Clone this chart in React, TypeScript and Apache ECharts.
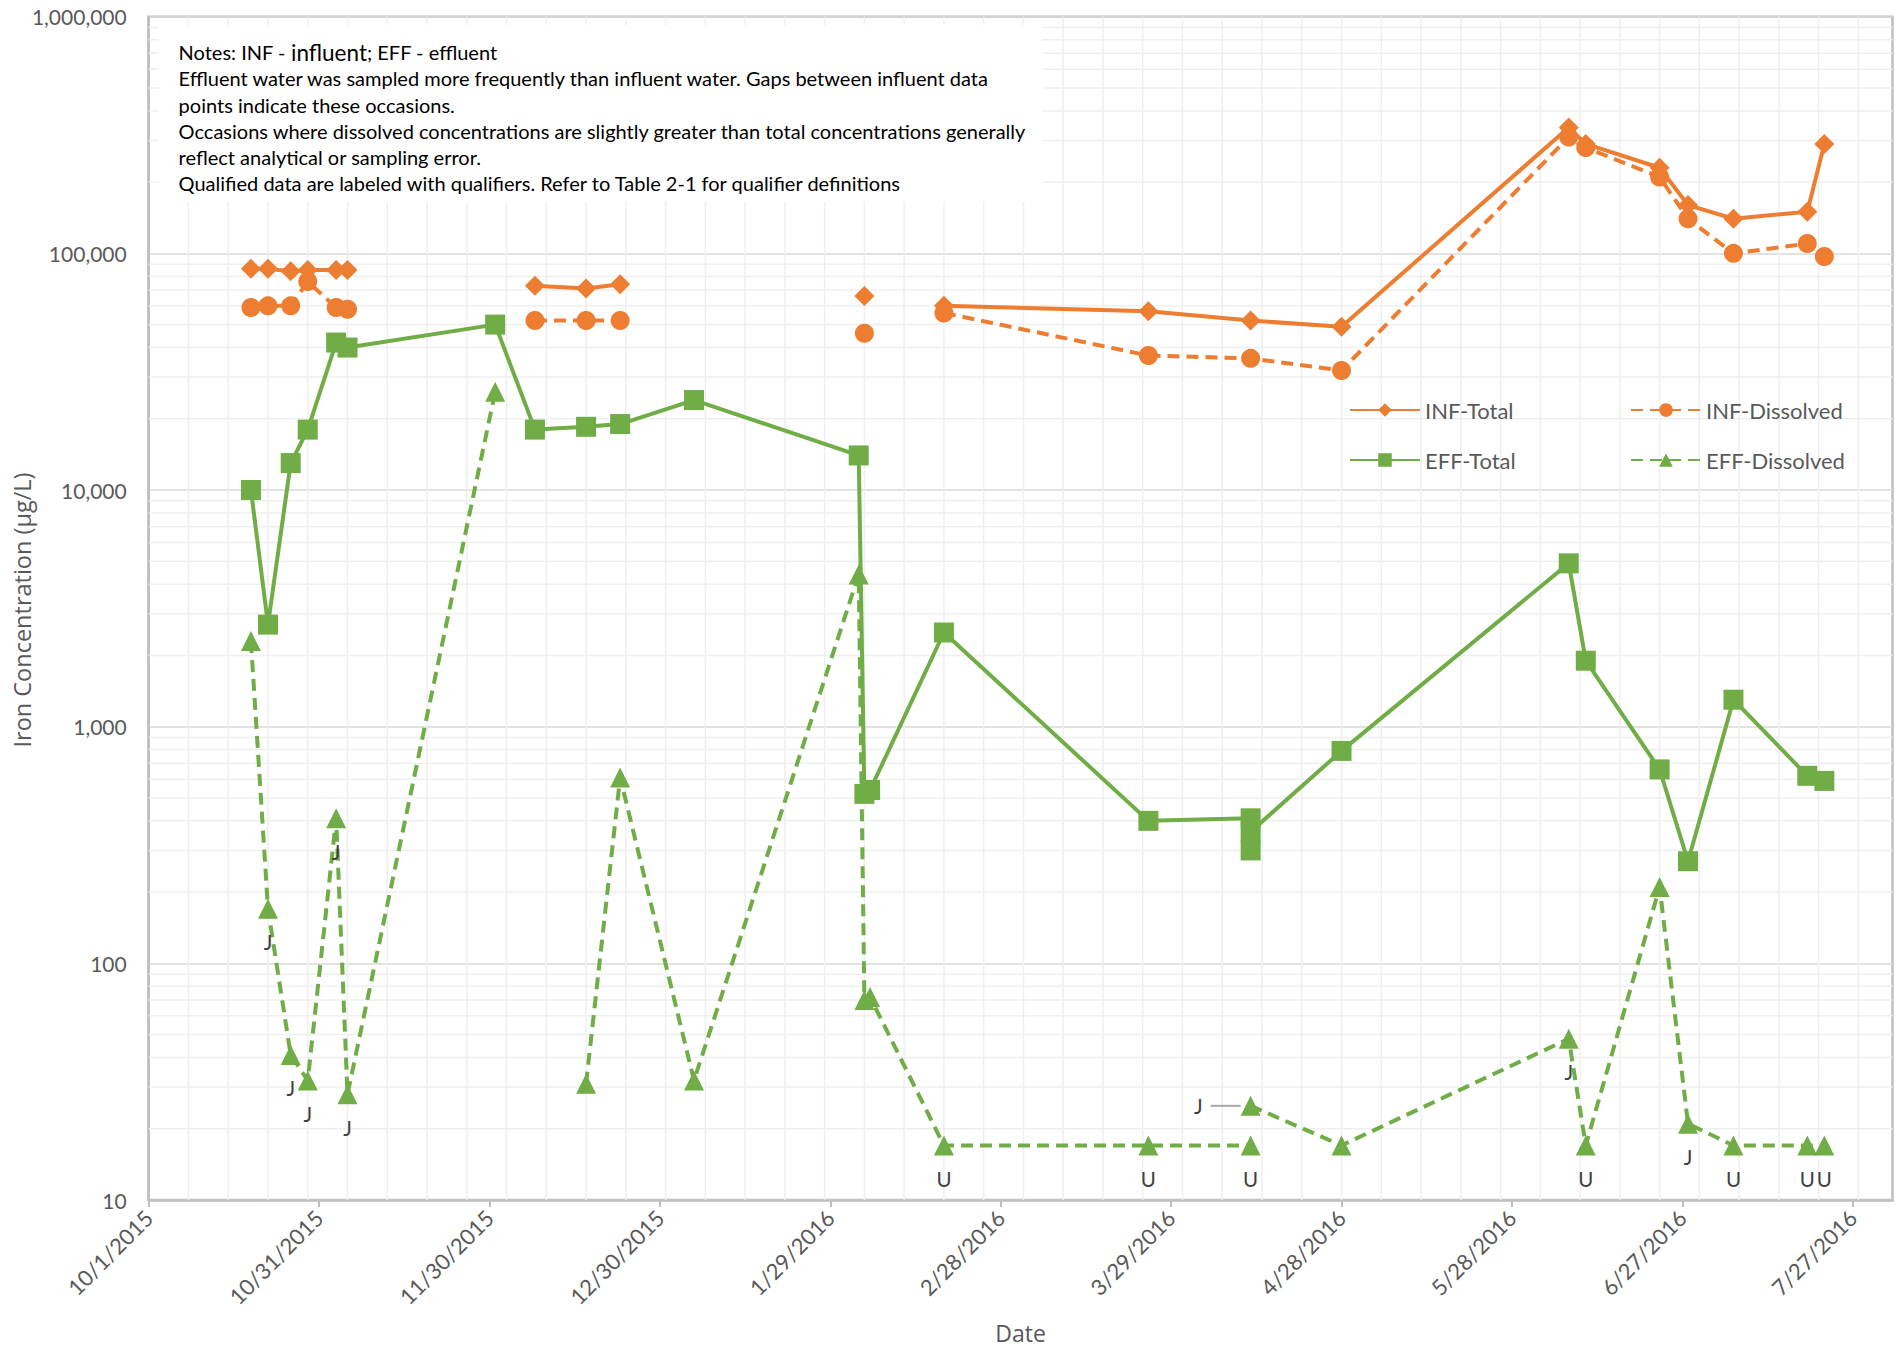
import React, { useEffect, useRef } from 'react';
import * as echarts from 'echarts';

// ---- Sampling data (µg/L); null = not sampled on that date (line gap) ----
const infDates = [
  '10/19/2015', '10/22/2015', '10/26/2015', '10/29/2015', '11/3/2015', '11/5/2015',
  '12/1/2015', '12/8/2015', '12/17/2015', '12/23/2015', '1/5/2016', '2/4/2016',
  '2/5/2016', '2/18/2016', '3/25/2016', '4/12/2016', '4/28/2016', '6/7/2016',
  '6/10/2016', '6/23/2016', '6/28/2016', '7/6/2016', '7/19/2016', '7/22/2016',
];
const infTotal = [
  86000, 86000, 84000, 85000, 85000, 85000,
  null, 73000, 71000, 74000, null, 66000,
  null, 60000, 57000, 52000, 49000, 340000,
  290000, 230000, 160000, 140000, 150000, 290000,
];
const infDissolved = [
  59000, 60000, 60000, 76000, 59000, 58000,
  null, 52000, 52000, 52000, null, 46000,
  null, 56000, 37000, 36000, 32000, 310000,
  280000, 210000, 140000, 100000, 110000, 97000,
];

const effDates = [
  '10/19/2015', '10/22/2015', '10/26/2015', '10/29/2015', '11/3/2015', '11/5/2015',
  '12/1/2015', '12/8/2015', '12/17/2015', '12/23/2015', '1/5/2016', '2/3/2016',
  '2/4/2016', '2/5/2016', '2/18/2016', '3/25/2016', '4/12/2016', '4/12/2016',
  '4/12/2016', '4/28/2016', '6/7/2016', '6/10/2016', '6/23/2016', '6/28/2016',
  '7/6/2016', '7/19/2016', '7/22/2016',
];
const effTotal = [
  10000, 2700, 13000, 18000, 42000, 40000,
  50000, 18000, 18500, 19000, 24000, 14000,
  520, 540, 2500, 400, 410, 300,
  360, 790, 4900, 1900, 660, 270,
  1300, 620, 590,
];
const effDissolved = [
  2300, 170, 41, 32, 410, 28,
  26000, null, 31, 610, 32, 4400,
  70, 72, 17, 17, 17, null,
  25, 17, 48, 17, 210, 21,
  17, 17, 17,
];
const effDissolvedQualifiers = [
  '', 'J', 'J', 'J', 'J', 'J',
  '', '', '', '', '', '',
  '', '', 'U', 'U', 'U', '',
  'J', '', 'J', 'U', '', 'J',
  'U', 'U', 'U',
];
// qualifier labels on these dates sit beside the marker with a leader line
const sideLabelDates = ['4/12/2016'];

// ---- Axes ----
const axisStart = '10/1/2015';
const axisEnd = '8/3/2016';
const xTickLabels = [
  '10/1/2015', '10/31/2015', '11/30/2015', '12/30/2015', '1/29/2016', '2/28/2016',
  '3/29/2016', '4/28/2016', '5/28/2016', '6/27/2016', '7/27/2016',
];
const yMin = 10;
const yMax = 1000000;
const yTitle = 'Iron Concentration (µg/L)';
const xTitle = 'Date';

const noteLines = [
  'Effluent water was sampled more frequently than influent water. Gaps between influent data',
  'points indicate these occasions.',
  'Occasions where dissolved concentrations are slightly greater than total concentrations generally',
  'reflect analytical or sampling error.',
  'Qualified data are labeled with qualifiers. Refer to Table 2-1 for qualifier definitions',
];

const ORANGE = '#ED7D31';
const GREEN = '#70AD47';
const FONT = 'Lato, "Noto Sans", sans-serif';
const TITLE_FONT = '"Open Sans", "Noto Sans", sans-serif';
const AXIS_GREY = '#bfbfbf';
const TEXT_GREY = '#595959';

const DAY_MS = 86400000;
const parseUTC = (s: string) => {
  const [m, d, y] = s.split('/').map(Number);
  return Date.UTC(y, m - 1, d);
};
const originMs = parseUTC(axisStart);
const toDay = (s: string) => Math.round((parseUTC(s) - originMs) / DAY_MS);
const fromDay = (n: number) => {
  const dt = new Date(originMs + Math.round(n) * DAY_MS);
  return `${dt.getUTCMonth() + 1}/${dt.getUTCDate()}/${dt.getUTCFullYear()}`;
};

const xMaxDay = toDay(axisEnd);
const tickDays = xTickLabels.map(toDay);
const weekLines = Array.from({ length: Math.floor(xMaxDay / 7) }, (_, i) => (i + 1) * 7);
const minorLevels: number[] = [];
for (let d = yMin; d < yMax; d *= 10) {
  for (let k = 2; k <= 9; k++) minorLevels.push(k * d);
}

const points = (dates: string[], vals: (number | null)[]) =>
  dates.map((d, i) => [toDay(d), vals[i] == null ? '-' : vals[i]]);

const lineBase = (name: string, color: string, dashed: boolean, symbol: string, size: number) => ({
  name,
  type: 'line',
  symbol,
  symbolSize: size,
  showSymbol: true,
  connectNulls: false,
  silent: true,
  z: 3,
  itemStyle: { color },
  lineStyle: { color, width: 4, type: dashed ? [12, 7] : 'solid' },
  emphasis: { disabled: true },
});

const qualifierData = () =>
  effDates.map((d, i) => {
    const v = effDissolved[i];
    const q = effDissolvedQualifiers[i];
    const item: any = { value: [toDay(d), v == null ? '-' : v] };
    if (q) {
      if (sideLabelDates.includes(d) && q === 'J') {
        item.label = {
          show: true,
          position: 'left',
          distance: 0,
          formatter: `{t|${q}}{s|}{g|}`,
          rich: {
            t: { fontSize: 20.5, fontFamily: FONT, color: '#404040', lineHeight: 22 },
            s: { width: 8, height: 2 },
            g: { width: 30, height: 2, backgroundColor: '#a6a6a6', verticalAlign: 'middle' },
          },
        };
      } else {
        item.label = { show: true, position: 'bottom', distance: 13, formatter: q };
      }
    }
    return item;
  });

const gridLineSeries = (kind: 'h' | 'v', values: number[]) => ({
  type: 'custom',
  silent: true,
  z: 1,
  data: kind === 'h' ? values.map((v) => [0, v]) : values.map((v) => [v, yMin]),
  renderItem: (_params: any, api: any) => {
    let a: number[];
    let b: number[];
    if (kind === 'h') {
      const v = api.value(1);
      a = api.coord([0, v]);
      b = api.coord([xMaxDay, v]);
    } else {
      const v = api.value(0);
      a = api.coord([v, yMin]);
      b = api.coord([v, yMax]);
    }
    return {
      type: 'line',
      shape: { x1: a[0], y1: a[1], x2: b[0], y2: b[1] },
      style: { stroke: '#efefef', lineWidth: 1.5 },
    };
  },
});

const legendText = { fontFamily: FONT, fontSize: 22, color: TEXT_GREY };
const legendAt = (name: string, left: number, top: number) => ({
  data: [name],
  left,
  top,
  padding: 0,
  itemWidth: 70,
  itemHeight: 17,
  selectedMode: false,
  textStyle: legendText,
});

export default function App() {
  const ref = useRef<HTMLDivElement>(null);

  useEffect(() => {
    if (!ref.current) return;
    const chart = echarts.init(ref.current, undefined, { renderer: 'svg' });

    const noteText =
      `{a|Notes: INF - }{b|influent}{a|; EFF - effluent}\n` +
      noteLines.map((l) => `{a|${l}}`).join('\n');

    chart.setOption({
      animation: false,
      backgroundColor: '#ffffff',
      textStyle: { fontFamily: FONT },
      grid: {
        left: 148.7,
        top: 16.7,
        right: 3.5,
        bottom: 150,
        show: true,
        borderColor: AXIS_GREY,
        borderWidth: 2.5,
        containLabel: false,
        outerBoundsMode: 'none',
      },
      xAxis: {
        type: 'value',
        min: 0,
        max: xMaxDay,
        name: xTitle,
        nameLocation: 'middle',
        nameGap: 121,
        nameTextStyle: { fontFamily: TITLE_FONT, fontSize: 23, color: TEXT_GREY },
        axisLine: { onZero: false, lineStyle: { color: AXIS_GREY, width: 2.5 } },
        axisTick: { show: true, customValues: tickDays, length: 7, lineStyle: { color: AXIS_GREY, width: 2 } },
        axisLabel: {
          customValues: tickDays,
          formatter: (v: number) => fromDay(v),
          rotate: 45,
          margin: 14,
          fontFamily: FONT,
          fontSize: 22,
          color: TEXT_GREY,
        },
        splitLine: { show: false },
      },
      yAxis: {
        type: 'log',
        logBase: 10,
        min: yMin,
        max: yMax,
        axisLine: { show: true, onZero: false, lineStyle: { color: AXIS_GREY, width: 2.5 } },
        axisTick: { show: false },
        axisLabel: {
          formatter: (v: number) => Number(v).toLocaleString('en-US'),
          margin: 22,
          fontFamily: FONT,
          fontSize: 21,
          color: TEXT_GREY,
        },
        splitLine: { show: true, lineStyle: { color: '#d9d9d9', width: 1.5 } },
      },
      legend: [
        legendAt('INF-Total', 1349, 399),
        legendAt('INF-Dissolved', 1630, 399),
        legendAt('EFF-Total', 1349, 449),
        legendAt('EFF-Dissolved', 1630, 449),
      ],
      graphic: [
        {
          type: 'rect',
          silent: true,
          z: 1.5,
          shape: { x: 158.5, y: 25, width: 883.5, height: 176.7 },
          style: { fill: '#ffffff' },
        },
        {
          type: 'text',
          silent: true,
          z: 1.6,
          x: 178.6,
          y: 39,
          style: {
            text: noteText,
            fill: '#000000',
            rich: {
              a: { fontFamily: FONT, fontSize: 20, lineHeight: 26.2, fill: '#000000' },
              b: { fontFamily: FONT, fontSize: 22.5, lineHeight: 26.2, fill: '#000000' },
            },
          },
        },
        {
          // vertical axis title
          type: 'text',
          silent: true,
          x: 22,
          y: 610,
          rotation: Math.PI / 2,
          style: {
            text: yTitle,
            fill: TEXT_GREY,
            fontFamily: TITLE_FONT,
            fontSize: 23.5,
            align: 'center',
            verticalAlign: 'middle',
          },
        },
      ],
      series: [
        gridLineSeries('v', weekLines),
        gridLineSeries('h', minorLevels),
        { ...lineBase('INF-Total', ORANGE, false, 'diamond', 20), data: points(infDates, infTotal) },
        { ...lineBase('INF-Dissolved', ORANGE, true, 'circle', 19), data: points(infDates, infDissolved) },
        { ...lineBase('EFF-Total', GREEN, false, 'rect', 20), data: points(effDates, effTotal) },
        {
          ...lineBase('EFF-Dissolved', GREEN, true, 'triangle', 20),
          label: { fontFamily: FONT, fontSize: 20.5, color: '#404040' },
          labelLayout: { hideOverlap: false },
          data: qualifierData(),
        },
      ],
    });

    return () => chart.dispose();
  }, []);

  return (
    <div
      ref={ref}
      style={{ position: 'fixed', left: 0, top: 0, width: 1896, height: 1350, background: '#fff' }}
    />
  );
}
